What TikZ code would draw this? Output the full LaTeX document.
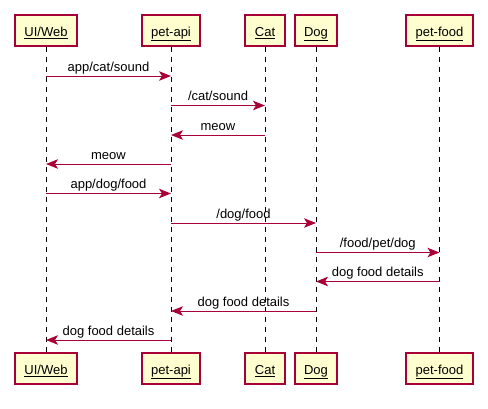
\documentclass[tikz,border=0pt]{standalone}
\usepackage{fontspec}
\setmainfont{Liberation Sans}
\usetikzlibrary{arrows.meta}
\definecolor{umlborder}{HTML}{A80036}
\definecolor{umlfill}{HTML}{FEFECE}
\begin{document}
\begin{tikzpicture}[x=1pt,y=-1pt,
  font=\fontsize{13}{15}\selectfont,
  actor/.style={draw=umlborder,fill=umlfill,line width=1.3pt,minimum height=31pt,
    inner sep=0pt,text height=12.5pt,text depth=1pt},
  life/.style={draw=black,line width=0.9pt,dash pattern=on 5pt off 5pt},
  msg/.style={draw=umlborder,line width=1pt,-{Stealth[length=12pt,width=9.5pt,inset=3pt]}},
  lbl/.style={midway,anchor=base,inner sep=0pt,yshift=5pt,text=black}]
\useasboundingbox (0,0) rectangle (488,408);
% participant heads
\node[actor,minimum width=62pt] (uiT)   at (46,30.5)   {\underline{UI/Web}};
\node[actor,minimum width=58pt] (apiT)  at (171,30.5)  {\underline{pet-api}};
\node[actor,minimum width=40pt] (catT)  at (265,30.5)  {\underline{Cat}};
\node[actor,minimum width=42pt] (dogT)  at (316,30.5)  {\underline{Dog}};
\node[actor,minimum width=67pt] (foodT) at (439.5,30.5){\underline{pet-food}};
% participant feet
\node[actor,minimum width=62pt] (uiB)   at (46,368.5)   {\underline{UI/Web}};
\node[actor,minimum width=58pt] (apiB)  at (171,368.5)  {\underline{pet-api}};
\node[actor,minimum width=40pt] (catB)  at (265,368.5)  {\underline{Cat}};
\node[actor,minimum width=42pt] (dogB)  at (316,368.5)  {\underline{Dog}};
\node[actor,minimum width=67pt] (foodB) at (439.5,368.5){\underline{pet-food}};
% lifelines
\foreach \p in {ui,api,cat,dog,food}
  \draw[life] (\p T.south) -- (\p B.north);
% message rows
\coordinate (m1)  at (0,76);
\coordinate (m2)  at (0,105.5);
\coordinate (m3)  at (0,135);
\coordinate (m4)  at (0,164);
\coordinate (m5)  at (0,193.5);
\coordinate (m6)  at (0,223);
\coordinate (m7)  at (0,252.5);
\coordinate (m8)  at (0,281.5);
\coordinate (m9)  at (0,311);
\coordinate (m10) at (0,340);
% messages
\draw[msg] (uiT |- m1) -- (apiT |- m1) node[lbl] {app/cat/sound};
\draw[msg] (apiT |- m2) -- (catT |- m2) node[lbl] {/cat/sound};
\draw[msg] (catT |- m3) -- (apiT |- m3) node[lbl] {meow};
\draw[msg] (apiT |- m4) -- (uiT |- m4) node[lbl] {meow};
\draw[msg] (uiT |- m5) -- (apiT |- m5) node[lbl] {app/dog/food};
\draw[msg] (apiT |- m6) -- (dogT |- m6) node[lbl] {/dog/food};
\draw[msg] (dogT |- m7) -- (foodT |- m7) node[lbl] {/food/pet/dog};
\draw[msg] (foodT |- m8) -- (dogT |- m8) node[lbl] {dog food details};
\draw[msg] (dogT |- m9) -- (apiT |- m9) node[lbl] {dog food details};
\draw[msg] (apiT |- m10) -- (uiT |- m10) node[lbl] {dog food details};
\end{tikzpicture}
\end{document}
